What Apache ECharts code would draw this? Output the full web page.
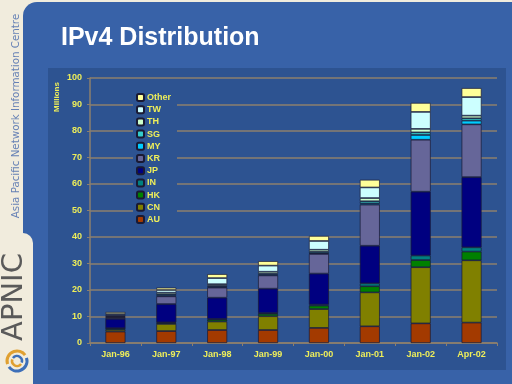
<!DOCTYPE html>
<html><head><meta charset="utf-8">
<script src="https://cdn.jsdelivr.net/npm/echarts@6/dist/echarts.min.js"></script>
<style>html,body{margin:0;padding:0;background:#f1ecdd}#c{width:512px;height:384px}</style>
</head><body><div id="c"></div>
<script>
const categories = ['Jan-96','Jan-97','Jan-98','Jan-99','Jan-00','Jan-01','Jan-02','Apr-02'];
const AU    = [4.3, 4.5, 4.9, 4.9, 5.7, 6.3, 7.4, 7.7];
const CN    = [0.7, 2.7, 3.2, 5.2, 7.1, 12.8, 21.2, 23.5];
const HK    = [0.5, 0.4, 0.7, 0.9, 1.3, 2.3, 2.7, 3.3];
const IN    = [0.1, 0.2, 0.3, 0.3, 0.4, 1.1, 1.7, 1.6];
const JP    = [3.5, 6.9, 8.0, 9.2, 11.7, 14.2, 24.1, 26.5];
const KR    = [0.5, 2.9, 3.8, 5.0, 7.4, 15.5, 19.6, 19.9];
const MY    = [0.2, 0.3, 0.3, 0.3, 0.3, 0.5, 1.8, 1.4];
const SG    = [0.3, 0.5, 0.4, 0.4, 0.5, 0.8, 1.0, 0.9];
const TH    = [0.3, 0.6, 0.6, 0.7, 0.8, 1.2, 1.3, 1.0];
const TW    = [0.5, 1.0, 2.3, 2.3, 3.3, 4.0, 6.4, 7.0];
const Other = [0.8, 0.9, 1.5, 1.7, 1.9, 2.9, 3.4, 3.4];
const yTicks = [0,10,20,30,40,50,60,70,80,90,100];

const seriesDefs = [
  ['AU', AU, '#a33a00'], ['CN', CN, '#808000'], ['HK', HK, '#008000'],
  ['IN', IN, '#008080'], ['JP', JP, '#000080'], ['KR', KR, '#666699'],
  ['MY', MY, '#00ccff'], ['SG', SG, '#33cccc'], ['TH', TH, '#ccffcc'],
  ['TW', TW, '#ccffff'], ['Other', Other, '#ffff99']
];
const yellow = '#eeee5a';
const panel = '#2d5391';
const slide = '#3862a8';

const chart = echarts.init(document.getElementById('c'), null, {renderer:'canvas'});
chart.setOption({
  animation: false,
  backgroundColor: '#f1ecdd',
  graphic: [
    {type:'rect', z:-10, shape:{x:23,y:2,width:489,height:382,r:[14,0,0,0]}, style:{fill:slide}},
    {type:'rect', z:-9, shape:{x:0,y:233,width:33,height:151,r:[0,10,0,0]}, style:{fill:'#f1ecdd'}},
    {type:'rect', z:-8, shape:{x:48,y:68,width:458,height:302}, style:{fill:panel}},
    {type:'text', z:5, left:61, top:26, style:{text:'IPv4 Distribution', fill:'#ffffff', font:'bold 25px "Liberation Sans", Arial, sans-serif'}},
    {type:'text', z:5, x:16, y:116, rotation:Math.PI/2, style:{text:'Asia Pacific Network Information Centre', fill:'#6681b5', font:'10.3px "DejaVu Sans", sans-serif', align:'center', verticalAlign:'middle'}},
    {type:'text', z:5, x:14, y:297, rotation:Math.PI/2, style:{text:'APNIC', fill:'#5a5a5a', font:'29px "DejaVu Sans", sans-serif', align:'center', verticalAlign:'middle'}},
    {type:'text', z:5, x:57, y:97, rotation:Math.PI/2, style:{text:'Millions', fill:yellow, font:'bold 8px "Liberation Sans", Arial, sans-serif', align:'center', verticalAlign:'middle'}},
    {type:'arc', z:5, shape:{cx:17,cy:361,r:10,startAngle:Math.PI*0.9,endAngle:Math.PI*1.8}, style:{stroke:'#e0a030',lineWidth:3,fill:null}},
    {type:'arc', z:5, shape:{cx:17,cy:361,r:10,startAngle:-Math.PI*0.1,endAngle:Math.PI*0.8}, style:{stroke:'#3d6fb8',lineWidth:3,fill:null}},
    {type:'arc', z:5, shape:{cx:17,cy:361,r:5,startAngle:Math.PI*0.2,endAngle:Math.PI*1.1}, style:{stroke:'#e0a030',lineWidth:2.5,fill:null}},
    {type:'arc', z:5, shape:{cx:17,cy:361,r:5,startAngle:Math.PI*1.2,endAngle:Math.PI*2.1}, style:{stroke:'#3d6fb8',lineWidth:2.5,fill:null}}
  ],
  grid: {left:90, right:15, top:78, bottom:41},
  legend: {
    orient:'vertical', left:133, top:90, padding:[3,6,3,3],
    backgroundColor: panel, z: 10,
    itemWidth:7, itemHeight:7, itemGap:3.2,
    data: ['Other','TW','TH','SG','MY','KR','JP','IN','HK','CN','AU'],
    textStyle:{color:yellow, fontSize:9, fontWeight:'bold', fontFamily:'"Liberation Sans", Arial, sans-serif', lineHeight:9, padding:[0,0,0,-2]}
  },
  xAxis: {
    type:'category', data:categories,
    axisLine:{lineStyle:{color:'#8c7f6e', width:1.5}},
    axisTick:{show:true, length:3, lineStyle:{color:'#8c7f6e'}},
    axisLabel:{color:yellow, fontSize:9, fontWeight:'bold', fontFamily:'"Liberation Sans", Arial, sans-serif', margin:7}
  },
  yAxis: {
    type:'value', min:0, max:100, interval:10,
    axisLine:{show:true, lineStyle:{color:'#8c7f6e', width:1.5}},
    axisTick:{show:true, length:3, lineStyle:{color:'#8c7f6e'}},
    axisLabel:{color:yellow, fontSize:9, fontWeight:'bold', fontFamily:'"Liberation Sans", Arial, sans-serif', margin:8},
    splitLine:{lineStyle:{color:'#8c7f6e', width:1.5}}
  },
  series: seriesDefs.map(([name, data, color]) => ({
    name, type:'bar', stack:'total', data, barWidth:20,
    itemStyle:{color, borderColor:'#1a1a33', borderWidth:0.7}
  }))
});
</script></body></html>
